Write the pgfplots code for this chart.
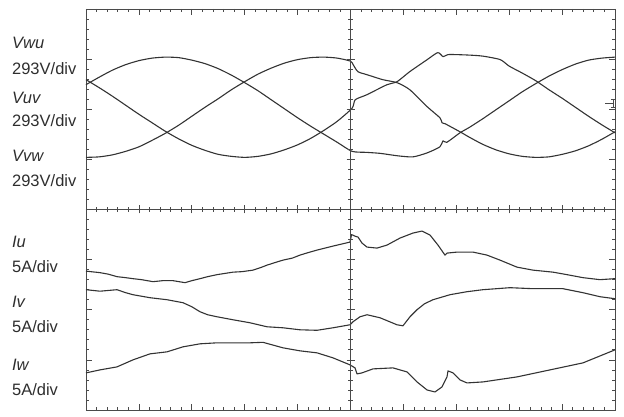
\documentclass[border=0pt]{standalone}
\usepackage{fontspec}
\setmainfont{Liberation Sans}
\usepackage{pgfplots}
\pgfplotsset{compat=1.18}

\definecolor{trace}{HTML}{333333}
\definecolor{grat}{HTML}{4A4A4A}
\definecolor{lbl}{HTML}{2E2E2E}

% 10 x 8 divisions, 1 div = 52.9pt wide, 50.1pt high
\pgfplotsset{scope/.style={
  width=529pt, height=401pt, scale only axis,
  xticklabels={}, yticklabels={},
  minor x tick num=4, minor y tick num=4,
  every tick/.style={grat, line width=0.7pt},
}}
\tikzset{wave/.style={trace, line width=1.1pt, line join=round, mark=none}}

\begin{document}
\begin{tikzpicture}
\begin{axis}[scope, name=main,
  xmin=0, xmax=10, ymin=0, ymax=8,
  xtick={0,...,10}, ytick={0,...,8},
  tick align=inside, tick pos=both,
  major tick length=6pt, minor tick length=3pt,
  axis line style={grat, line width=0.8pt},
  clip=false,
]
\coordinate (sw) at (rel axis cs:0,0);
\coordinate (ne) at (rel axis cs:1,1);

% line voltages, 293 V/div
\addplot[wave, smooth, tension=0.4] coordinates {
 (0,6.49) (0.25,6.64) (0.5,6.78) (0.75,6.89) (1,6.97) (1.25,7.02) (1.5,7.04)
 (1.75,7.03) (2,6.98) (2.25,6.91) (2.5,6.81) (2.75,6.68) (3,6.53) (3.25,6.37)
 (3.5,6.19) (3.75,6.01) (4,5.83) (4.25,5.66) (4.5,5.50) (4.75,5.34) (5.03,5.16)
 (5.3,5.14) (5.56,5.12) (5.9,5.07) (6.18,5.05) (6.45,5.13) (6.69,5.25) (6.75,5.37)
 (6.82,5.34) (7.07,5.53) (7.25,5.64) (7.5,5.81) (7.75,5.99) (8,6.17) (8.25,6.35)
 (8.5,6.51) (8.75,6.66) (9,6.79) (9.25,6.90) (9.5,6.98) (9.75,7.02) (10,7.04)};
\addplot[wave, smooth, tension=0.4] coordinates {
 (0,6.59) (0.25,6.43) (0.5,6.26) (0.75,6.08) (1,5.90) (1.25,5.73) (1.5,5.56)
 (1.75,5.41) (2,5.28) (2.25,5.18) (2.5,5.10) (2.75,5.06) (3,5.04) (3.25,5.06)
 (3.5,5.11) (3.75,5.19) (4,5.29) (4.25,5.42) (4.5,5.58) (4.75,5.76) (5.03,6.02)
 (5.09,6.19) (5.31,6.29) (5.69,6.49) (5.88,6.55) (6.12,6.75) (6.45,6.99)
 (6.65,7.13) (6.75,7.05) (6.84,7.09) (7.0,7.09) (7.25,7.08) (7.5,7.06) (7.83,6.99)
 (8,6.86) (8.25,6.72) (8.5,6.57) (8.75,6.39) (9,6.22) (9.25,6.04) (9.5,5.86)
 (9.75,5.69) (10,5.53)};
\addplot[wave, smooth, tension=0.4] coordinates {
 (0,5.04) (0.25,5.05) (0.5,5.09) (0.75,5.16) (1,5.25) (1.25,5.38) (1.5,5.52)
 (1.75,5.68) (2,5.86) (2.25,6.04) (2.5,6.21) (2.75,6.39) (3,6.55) (3.25,6.70)
 (3.5,6.82) (3.75,6.92) (4,6.99) (4.25,7.03) (4.5,7.04) (4.75,7.02) (5.0,6.96)
 (5.05,6.89) (5.14,6.75) (5.31,6.69) (5.61,6.59) (5.88,6.53) (6.12,6.39)
 (6.45,6.05) (6.69,5.83) (6.73,5.73) (6.79,5.71) (7.07,5.55) (7.25,5.44)
 (7.5,5.30) (7.75,5.19) (8,5.11) (8.25,5.06) (8.5,5.04) (8.75,5.05) (9,5.10)
 (9.25,5.17) (9.5,5.27) (9.75,5.40) (10,5.55)};

% phase currents, 5 A/div
\addplot[wave] coordinates {
 (0,2.77) (0.265,2.74) (0.42,2.71) (0.586,2.66) (0.75,2.64) (0.888,2.62) (1.05,2.60)
 (1.267,2.56) (1.45,2.58) (1.645,2.58) (1.871,2.54) (2.0,2.58) (2.155,2.62)
 (2.3,2.66) (2.476,2.70) (2.779,2.75) (2.95,2.76) (3.157,2.79) (3.3,2.84)
 (3.422,2.89) (3.6,2.95) (3.724,2.99) (3.9,3.03) (4.045,3.09) (4.2,3.14)
 (4.367,3.19) (4.669,3.27) (4.991,3.35) (5.02,3.50) (5.08,3.47) (5.142,3.45)
 (5.217,3.33) (5.312,3.25) (5.501,3.23) (5.690,3.29) (5.936,3.43) (6.181,3.53)
 (6.352,3.57) (6.503,3.49) (6.654,3.29) (6.786,3.09) (6.824,3.13) (7.013,3.15)
 (7.316,3.15) (7.580,3.09) (7.826,2.99) (8.147,2.85) (8.450,2.79) (8.828,2.75)
 (9.093,2.70) (9.395,2.64) (9.716,2.60) (10,2.62)};
\addplot[wave] coordinates {
 (0,2.40) (0.265,2.37) (0.586,2.40) (0.75,2.34) (0.888,2.30) (1.210,2.24)
 (1.531,2.20) (1.834,2.14) (2.0,2.06) (2.155,1.96) (2.3,1.90) (2.476,1.86)
 (2.779,1.80) (3.100,1.74) (3.422,1.66) (3.724,1.64) (4.045,1.60) (4.367,1.59)
 (4.669,1.64) (4.991,1.70) (5.047,1.76) (5.180,1.86) (5.312,1.90) (5.558,1.84)
 (5.879,1.70) (5.992,1.68) (6.125,1.86) (6.257,2.00) (6.40,2.12) (6.560,2.20)
 (6.881,2.30) (7.202,2.36) (7.505,2.40) (8.015,2.44) (8.450,2.42) (9.017,2.42)
 (9.395,2.34) (9.716,2.26) (10,2.22)};
\addplot[wave] coordinates {
 (0,0.74) (0.265,0.80) (0.586,0.86) (0.888,1.00) (1.210,1.12) (1.531,1.16)
 (1.834,1.26) (2.155,1.32) (2.476,1.34) (2.779,1.34) (3.100,1.34) (3.346,1.35)
 (3.724,1.24) (4.045,1.18) (4.367,1.14) (4.669,1.04) (4.991,0.90) (5.085,0.84)
 (5.123,0.72) (5.217,0.74) (5.425,0.82) (5.803,0.84) (6.068,0.76) (6.257,0.56)
 (6.446,0.40) (6.597,0.36) (6.730,0.46) (6.824,0.66) (6.843,0.78) (6.938,0.74)
 (7.070,0.60) (7.202,0.54) (7.505,0.56) (8.147,0.66) (8.771,0.80) (9.395,0.94)
 (10,1.20)};

% trigger level marker
\draw[grat, line width=0.7pt] (axis cs:9.96,6.03) -- (axis cs:9.96,6.19)
  (axis cs:9.92,6.03) -- (axis cs:10,6.03) (axis cs:9.92,6.19) -- (axis cs:10,6.19)
  (axis cs:9.82,6.11) -- (axis cs:9.96,6.11);

% channel labels
\begin{scope}[every node/.style={anchor=base west, inner sep=0pt, text=lbl,
    font=\fontsize{16.5}{19}\selectfont}]
\node at (axis cs:-1.40,7.206) {\itshape Vwu};
\node at (axis cs:-1.40,6.687) {293V/div};
\node at (axis cs:-1.40,6.108) {\itshape Vuv};
\node at (axis cs:-1.40,5.649) {293V/div};
\node at (axis cs:-1.40,4.950) {\itshape Vvw};
\node at (axis cs:-1.40,4.451) {293V/div};
\node at (axis cs:-1.40,3.234) {\itshape Iu};
\node at (axis cs:-1.40,2.735) {5A/div};
\node at (axis cs:-1.40,2.036) {\itshape Iv};
\node at (axis cs:-1.40,1.537) {5A/div};
\node at (axis cs:-1.40,0.778) {\itshape Iw};
\node at (axis cs:-1.40,0.299) {5A/div};
\end{scope}
\end{axis}

% centre graticule lines with ticks across them
\begin{axis}[scope, at={(main.south west)}, anchor=south west,
  xmin=-5, xmax=5, ymin=-4, ymax=4,
  xtick={-5,...,5}, ytick={-4,...,4},
  axis lines=middle, axis line style={-, grat, line width=0.8pt},
  tick align=center, major tick length=8pt, minor tick length=5pt,
]
\end{axis}

\path ([shift={(-86pt,-4pt)}]sw) rectangle ([shift={(9pt,9pt)}]ne);
\end{tikzpicture}
\end{document}
